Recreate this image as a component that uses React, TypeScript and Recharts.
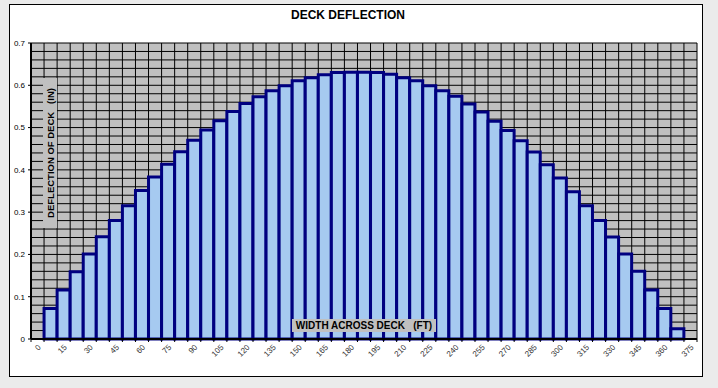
import React from 'react';
import { BarChart, Bar, XAxis, YAxis, CartesianGrid, Label } from 'recharts';

const categories: number[] = [
  0, 7.5, 15, 22.5, 30, 37.5, 45, 52.5, 60, 67.5, 75, 82.5, 90, 97.5, 105, 112.5, 120, 127.5, 135, 142.5,
  150, 157.5, 165, 172.5, 180, 187.5, 195, 202.5, 210, 217.5, 225, 232.5, 240, 247.5, 255, 262.5, 270, 277.5,
  285, 292.5, 300, 307.5, 315, 322.5, 330, 337.5, 345, 352.5, 360, 367.5, 375,
];

const deflection: number[] = [
  0, 0.072, 0.116, 0.159, 0.201, 0.242, 0.28, 0.315, 0.351, 0.383, 0.413, 0.443, 0.47, 0.494, 0.516, 0.538,
  0.557, 0.573, 0.587, 0.599, 0.611, 0.618, 0.625, 0.63, 0.631, 0.631, 0.63, 0.626, 0.618, 0.611, 0.599,
  0.587, 0.574, 0.556, 0.537, 0.515, 0.493, 0.469, 0.442, 0.412, 0.381, 0.348, 0.315, 0.28, 0.241, 0.201,
  0.16, 0.116, 0.072, 0.024, 0,
];

const yTicks: number[] = [0, 0.1, 0.2, 0.3, 0.4, 0.5, 0.6, 0.7];

const data = categories.map((c, i) => ({ x: c, v: deflection[i] }));

const W = 718;
const H = 388;
const MARGIN = { top: 43, right: 21, bottom: 19, left: 0 };
const Y_AXIS_W = 31;
const X_AXIS_H = 30;
const PLOT_W = W - MARGIN.left - MARGIN.right - Y_AXIS_W;
const BAND = PLOT_W / categories.length;
const FONT = 'Arial, "Liberation Sans", sans-serif';

const XTick = (props: any) => {
  const { x, y, payload } = props;
  const idx = payload.index;
  const axisY = y - 5;
  const lx = x - BAND / 2;
  return (
    <g>
      <line x1={lx} y1={axisY} x2={lx} y2={axisY + 3} stroke="#000" strokeWidth={1} />
      {idx === categories.length - 1 && (
        <line x1={x + BAND / 2} y1={axisY} x2={x + BAND / 2} y2={axisY + 3} stroke="#000" strokeWidth={1} />
      )}
      {idx % 2 === 0 && (
        <text
          x={x + 2}
          y={y + 2}
          transform={`rotate(-45 ${x + 2} ${y + 2})`}
          textAnchor="end"
          dominantBaseline="central"
          fontSize={8}
          fontFamily={FONT}
          fill="#333"
        >
          {payload.value}
        </text>
      )}
    </g>
  );
};

const XLabelBox = (props: any) => {
  const vb = props.viewBox || {};
  const cx = vb.x + vb.width / 2;
  const cy = vb.y - 13.5;
  return (
    <g>
      <rect x={cx - 72} y={cy - 6.5} width={144} height={13} fill="#c0c0c0" />
      <text
        x={cx}
        y={cy}
        textAnchor="middle"
        dominantBaseline="central"
        fontSize={10}
        fontWeight="bold"
        fontFamily={FONT}
        fill="#000"
        style={{ whiteSpace: 'pre' }}
      >
        {'WIDTH ACROSS DECK   (FT)'}
      </text>
    </g>
  );
};

const YLabelBox = (props: any) => {
  const vb = props.viewBox || {};
  const cx = vb.x + vb.width + 19;
  const cy = vb.y + 110;
  return (
    <g>
      <rect x={cx - 7} y={cy - 75} width={14} height={150} fill="#c0c0c0" />
      <text
        x={cx}
        y={cy}
        transform={`rotate(-90 ${cx} ${cy})`}
        textAnchor="middle"
        dominantBaseline="central"
        fontSize={9.5}
        fontWeight="bold"
        fontFamily={FONT}
        fill="#000"
        style={{ whiteSpace: 'pre' }}
      >
        {'DEFLECTION OF DECK   (IN)'}
      </text>
    </g>
  );
};

export default function App() {
  return (
    <div style={{ position: 'absolute', left: 0, top: 0, width: W, height: H, background: '#ebebeb', overflow: 'hidden' }}>
      <div
        style={{
          position: 'absolute',
          left: 9,
          top: 4,
          width: 692,
          height: 371,
          background: '#fff',
          border: '1px solid #000',
        }}
      />
      <div
        style={{
          position: 'absolute',
          left: 0,
          top: 8,
          width: 696,
          textAlign: 'center',
          fontFamily: FONT,
          fontWeight: 'bold',
          fontSize: 12,
          lineHeight: '14px',
          color: '#000',
        }}
      >
        DECK DEFLECTION
      </div>
      <div style={{ position: 'absolute', left: 0, top: 0 }}>
        <BarChart width={W} height={H} data={data} margin={MARGIN} barCategoryGap={0} barGap={0}>
          <CartesianGrid
            fill="#c0c0c0"
            stroke="#000"
            strokeWidth={1}
            strokeOpacity={1}
            verticalCoordinatesGenerator={({ offset }: any) =>
              Array.from({ length: categories.length + 1 }, (_, i) => offset.left + (i * offset.width) / categories.length)
            }
            horizontalCoordinatesGenerator={({ offset }: any) =>
              Array.from({ length: 36 }, (_, i) => offset.top + (i * offset.height) / 35)
            }
          />
          <XAxis
            dataKey="x"
            type="category"
            interval={0}
            height={X_AXIS_H}
            tickLine={false}
            tickSize={3}
            tickMargin={2}
            axisLine={{ stroke: '#000', strokeWidth: 2 }}
            tick={<XTick />}
          >
            <Label content={<XLabelBox />} />
          </XAxis>
          <XAxis xAxisId="top" orientation="top" dataKey="x" height={0} tick={false} tickLine={false} axisLine={{ stroke: '#000', strokeWidth: 2 }} />
          <YAxis
            domain={[0, 0.7]}
            ticks={yTicks}
            width={Y_AXIS_W}
            tickSize={3}
            tickMargin={3}
            tickLine={{ stroke: '#000' }}
            axisLine={{ stroke: '#000', strokeWidth: 2 }}
            tick={{ fontSize: 8, fill: '#000', fontFamily: FONT }}
            tickFormatter={(v: number) => String(v)}
          >
            <Label content={<YLabelBox />} />
          </YAxis>
          <YAxis yAxisId="right" orientation="right" width={0} domain={[0, 0.7]} tick={false} tickLine={false} axisLine={{ stroke: '#000', strokeWidth: 2 }} />
          <Bar dataKey="v" fill="#a6caf0" stroke="#000080" strokeWidth={3} isAnimationActive={false} />
        </BarChart>
      </div>
    </div>
  );
}
